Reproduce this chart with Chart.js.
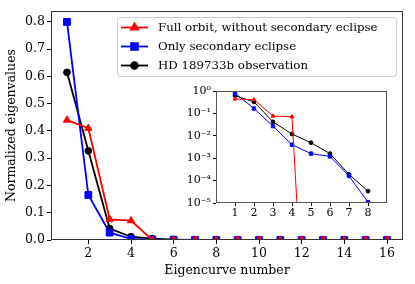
<!DOCTYPE html>
<html><head><meta charset="utf-8">
<script src="https://cdn.jsdelivr.net/npm/chart.js@4.4.0/dist/chart.umd.min.js"></script>
<style>
html,body{margin:0;padding:0;background:#fff;}
#wrap{position:relative;width:415px;height:284px;background:#fff;}
#main{position:absolute;left:0;top:0;}
#inset{position:absolute;left:170px;top:80px;}
</style></head><body>
<div id="wrap"><canvas id="main" width="415" height="284"></canvas><canvas id="inset" width="222" height="142"></canvas></div>
<script>
// ---- data ----
const eigencurves = [1,2,3,4,5,6,7,8,9,10,11,12,13,14,15,16];
const fullOrbit     = [0.44,0.41,0.076,0.071,1e-16,1e-16,1e-16,1e-16,1e-16,1e-16,1e-16,1e-16,1e-16,1e-16,1e-16,1e-16];
const secondaryOnly = [0.80,0.165,0.027,0.004,0.0016,0.0012,0.00016,0.000011,1e-6,8e-7,6e-7,5e-7,4e-7,3e-7,2e-7,1e-7];
const hdObservation = [0.615,0.327,0.042,0.012,0.0049,0.0016,0.00019,0.000034,1e-6,8e-7,6e-7,5e-7,4e-7,3e-7,2e-7,1e-7];
const seriesNames = ['Full orbit, without secondary eclipse','Only secondary eclipse','HD 189733b observation'];
const mainXTicks = [2,4,6,8,10,12,14,16];
const mainYTicks = [0,0.1,0.2,0.3,0.4,0.5,0.6,0.7,0.8];
const insetXTicks = [1,2,3,4,5,6,7,8];
const insetYTicks = [1e-5,1e-4,1e-3,1e-2,1e-1,1];
const insetYLabels = ['10\u207B\u2075','10\u207B\u2074','10\u207B\u00B3','10\u207B\u00B2','10\u207B\u00B9','10\u2070'];

const FONT = "'DejaVu Serif', serif";
const colors = ['#ff0000','#0000ff','#000000'];
const styles = ['triangle','rect','circle'];
const mainRadius = [4.2,4.8,3.4];
const insetRadius = [2.2,2.4,1.9];
const seriesData = [fullOrbit, secondaryOnly, hdObservation];

Chart.defaults.font.family = FONT;
Chart.defaults.color = '#000';

function pts(arr, n){ return arr.slice(0,n).map((v,i)=>({x:eigencurves[i], y:v})); }

const framePlugin = {
  id:'frame',
  beforeDraw(chart, args, opts){
    const a = chart.chartArea, ctx = chart.ctx;
    ctx.save(); ctx.fillStyle='#fff'; ctx.fillRect(a.left,a.top,a.right-a.left,a.bottom-a.top); ctx.restore();
  },
  afterDatasetsDraw(chart, args, opts){
    const a = chart.chartArea, ctx = chart.ctx;
    ctx.save(); ctx.strokeStyle = opts.color || '#333'; ctx.lineWidth = opts.width || 1;
    ctx.strokeRect(Math.round(a.left)+0.5, Math.round(a.top)+0.5, Math.round(a.right-a.left)-1, Math.round(a.bottom-a.top)-1);
    ctx.restore();
  }
};

function drawMarker(ctx, style, x, y, r, color){
  ctx.save(); ctx.fillStyle=color; ctx.strokeStyle=color;
  Chart.helpers.drawPoint(ctx, {pointStyle:style, radius:r, borderWidth:1}, x, y);
  ctx.restore();
}

const legendPlugin = {
  id:'boxLegend',
  afterDraw(chart){
    const ctx = chart.ctx;
    const L=117.5, T=17.5, W=279, H=59, R=3;
    ctx.save();
    ctx.beginPath();
    ctx.moveTo(L+R,T); ctx.lineTo(L+W-R,T); ctx.quadraticCurveTo(L+W,T,L+W,T+R);
    ctx.lineTo(L+W,T+H-R); ctx.quadraticCurveTo(L+W,T+H,L+W-R,T+H);
    ctx.lineTo(L+R,T+H); ctx.quadraticCurveTo(L,T+H,L,T+H-R);
    ctx.lineTo(L,T+R); ctx.quadraticCurveTo(L,T,L+R,T); ctx.closePath();
    ctx.fillStyle='rgba(255,255,255,0.85)'; ctx.fill();
    ctx.strokeStyle='#cccccc'; ctx.lineWidth=1; ctx.stroke();
    const rows=[27.5,46.5,65.5];
    ctx.font = "11.8px " + FONT; ctx.textBaseline='middle'; ctx.textAlign='left';
    for(let i=0;i<3;i++){
      ctx.strokeStyle=colors[i]; ctx.lineWidth=1.8;
      ctx.beginPath(); ctx.moveTo(121,rows[i]); ctx.lineTo(148,rows[i]); ctx.stroke();
      drawMarker(ctx, styles[i], 134.5, rows[i], mainRadius[i], colors[i]);
      ctx.fillStyle='#000'; ctx.fillText(seriesNames[i], 158, rows[i]+0.5);
    }
    ctx.restore();
  }
};

function setTicks(list){ return function(scale){ scale.ticks = list.map(v=>({value:v})); }; }

const mainDatasets = seriesData.map((arr,i)=>({
  label: seriesNames[i], data: pts(arr,16), borderColor: colors[i], backgroundColor: colors[i],
  borderWidth:1.8, pointStyle: styles[i], pointRadius: mainRadius[i], pointBorderWidth:1,
  pointBorderColor: colors[i], pointBackgroundColor: colors[i], tension:0
}));

new Chart(document.getElementById('main'), {
  type:'line',
  data:{datasets: mainDatasets},
  options:{
    responsive:false, animation:false, devicePixelRatio:1,
    layout:{padding:{top:11,right:12,left:0,bottom:0}},
    plugins:{legend:{display:false}, tooltip:{enabled:false}, frame:{color:'#333', width:1}},
    scales:{
      x:{type:'linear', min:0.25, max:16.75,
        afterBuildTicks: setTicks(mainXTicks),
        afterFit(s){ s.height=44; },
        grid:{drawOnChartArea:false, drawTicks:true, tickLength:4, color:'#000'},
        border:{display:false},
        ticks:{font:{size:12.5}, padding:2, maxRotation:0, autoSkip:false, color:'#000'},
        title:{display:true, text:'Eigencurve number', font:{size:12.5}, padding:{top:0,bottom:6}, color:'#000'}
      },
      y:{type:'linear', min:0, max:0.84,
        afterBuildTicks: setTicks(mainYTicks),
        afterFit(s){ s.width=51; },
        grid:{drawOnChartArea:false, drawTicks:true, tickLength:4, color:'#000'},
        border:{display:false},
        ticks:{font:{size:12.5}, padding:2, autoSkip:false, color:'#000', callback:v=>Number(v).toFixed(1)},
        title:{display:true, text:'Normalized eigenvalues', font:{size:12.5}, padding:{top:4,bottom:0}, color:'#000'}
      }
    }
  },
  plugins:[framePlugin, legendPlugin]
});

const insetDatasets = seriesData.map((arr,i)=>({
  label: seriesNames[i], data: pts(arr,8), borderColor: colors[i], backgroundColor: colors[i],
  borderWidth:1, pointStyle: styles[i], pointRadius: insetRadius[i], pointBorderWidth:1,
  pointBorderColor: colors[i], pointBackgroundColor: colors[i], tension:0
}));

new Chart(document.getElementById('inset'), {
  type:'line',
  data:{datasets: insetDatasets},
  options:{
    responsive:false, animation:false, devicePixelRatio:1,
    layout:{padding:{top:11,right:4,left:0,bottom:0}},
    plugins:{legend:{display:false}, tooltip:{enabled:false}, frame:{color:'#555', width:1}},
    scales:{
      x:{type:'linear', min:0, max:9,
        afterBuildTicks: setTicks(insetXTicks),
        afterFit(s){ s.height=19; },
        grid:{drawOnChartArea:false, drawTicks:true, tickLength:3, color:'#000'},
        border:{display:false},
        ticks:{font:{size:11}, padding:1, maxRotation:0, autoSkip:false, color:'#000'}
      },
      y:{type:'logarithmic', min:1e-5, max:1,
        afterBuildTicks: setTicks(insetYTicks),
        afterFit(s){ s.width=46; },
        grid:{drawOnChartArea:false, drawTicks:true, tickLength:3, color:'#000'},
        border:{display:false},
        ticks:{font:{size:11}, padding:2, autoSkip:false, color:'#000',
          callback:(v)=>{ const k=insetYTicks.findIndex(t=>Math.abs(Math.log10(t)-Math.log10(v))<1e-6); return k>=0?insetYLabels[k]:''; }}
      }
    }
  },
  plugins:[framePlugin]
});
</script>
</body></html>
